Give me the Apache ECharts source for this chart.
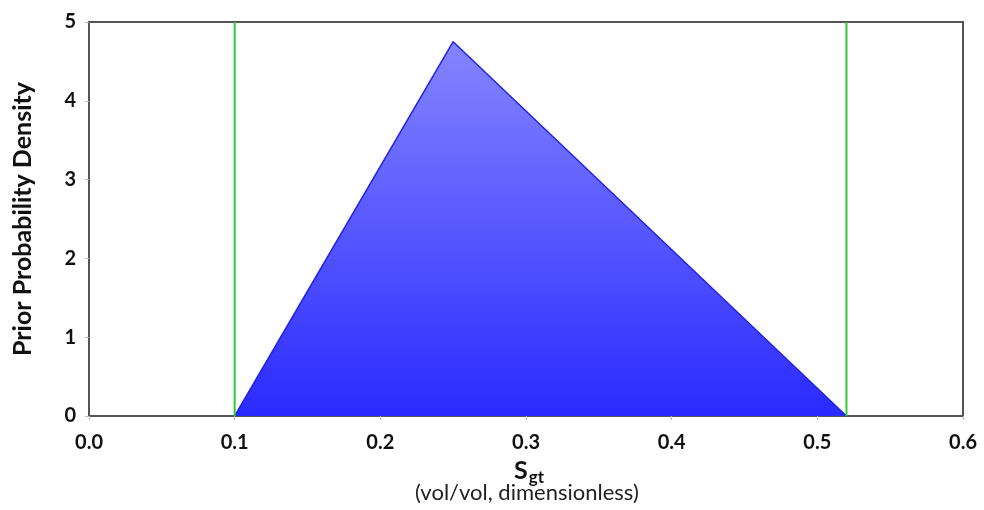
<!DOCTYPE html>
<html>
<head>
<meta charset="utf-8">
<script src="https://cdn.jsdelivr.net/npm/echarts@6/dist/echarts.min.js"></script>
<style>
  html, body { margin: 0; padding: 0; background: #fff; }
  #chart { width: 984px; height: 510px; }
</style>
</head>
<body>
<div id="chart"></div>
<script>
// Triangular prior density for gas saturation S_gt
const densityX = [0.10, 0.25, 0.52];
const densityY = [0, 4.75, 0];

// Lower and upper bounds of the prior
const boundsX = [0.10, 0.52];
const boundsY = [0, 5];

const xTicks = { min: 0, max: 0.6, step: 0.1 };
const yTicks = { min: 0, max: 5, step: 1 };

const FONT = 'Lato, "Open Sans", sans-serif';

const chart = echarts.init(document.getElementById('chart'));

const boundSeries = boundsX.map(function (bx) {
  return {
    type: 'line',
    data: boundsY.map(function (by) { return [bx, by]; }),
    symbol: 'none',
    silent: true,
    z: 3,
    lineStyle: { color: '#2ecc2e', width: 2 }
  };
});

chart.setOption({
  animation: false,
  grid: {
    left: 89, right: 21, top: 22, bottom: 94,
    show: true, borderColor: '#555', borderWidth: 2, backgroundColor: 'transparent'
  },
  xAxis: {
    type: 'value',
    min: xTicks.min, max: xTicks.max, interval: xTicks.step,
    axisLine: { show: true, lineStyle: { color: '#555', width: 2 } },
    axisTick: { show: true, length: 4, lineStyle: { color: '#bbb' } },
    splitLine: { show: false },
    axisLabel: {
      color: '#111', fontFamily: FONT, fontWeight: 'bold', fontSize: 20, margin: 17,
      formatter: function (v) { return v.toFixed(1); }
    }
  },
  yAxis: {
    type: 'value',
    min: yTicks.min, max: yTicks.max, interval: yTicks.step,
    axisLine: { show: true, lineStyle: { color: '#555', width: 2 } },
    axisTick: { show: true, length: 4, lineStyle: { color: '#bbb' } },
    splitLine: { show: false },
    axisLabel: {
      color: '#111', fontFamily: FONT, fontWeight: 'bold', fontSize: 20, margin: 13
    },
    name: 'Prior Probability Density',
    nameLocation: 'middle',
    nameGap: 54,
    nameTextStyle: { color: '#111', fontFamily: FONT, fontWeight: 'bold', fontSize: 25 }
  },
  graphic: [
    {
      type: 'text',
      left: 514, top: 458,
      style: {
        text: '{s|S}{sub|gt}',
        rich: {
          s: { fontFamily: FONT, fontWeight: 'bold', fontSize: 25, fill: '#111' },
          sub: { fontFamily: FONT, fontWeight: 'bold', fontSize: 17, fill: '#111', padding: [14, 0, 0, 1] }
        }
      }
    },
    {
      type: 'text',
      left: 415, top: 482,
      style: {
        text: '(vol/vol, dimensionless)',
        fontFamily: FONT, fontSize: 22, fill: '#222'
      }
    }
  ],
  series: [
    {
      type: 'line',
      data: densityX.map(function (x, i) { return [x, densityY[i]]; }),
      symbol: 'none',
      z: 2,
      lineStyle: { color: '#2222ee', width: 1.5 },
      areaStyle: {
        opacity: 1,
        color: new echarts.graphic.LinearGradient(0, 0, 0, 1, [
          { offset: 0, color: '#8585ff' },
          { offset: 1, color: '#2a2aff' }
        ])
      }
    }
  ].concat(boundSeries)
});
</script>
</body>
</html>
